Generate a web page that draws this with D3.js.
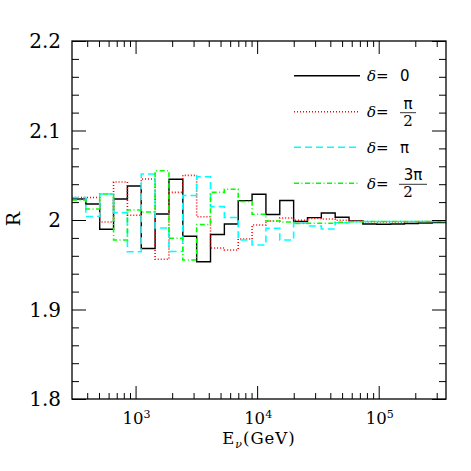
<!DOCTYPE html>
<html>
<head>
<meta charset="utf-8">
<script src="https://cdn.jsdelivr.net/npm/d3@7"></script>
<style>
  body { margin: 0; background: #fff; }
  svg { display: block; font-family: "DejaVu Serif", serif; }
</style>
</head>
<body>
<svg id="chart" width="471" height="471"></svg>
<script>
// Bin edges in GeV (each bin is 1.3 times the previous one)
const binEdges = [300, 390, 507, 659.1, 856.8, 1113.9, 1448, 1882.5, 2447.2, 3181.4,
  4135.8, 5376.5, 6989.4, 9086.3, 11812, 15356, 19963, 25951, 33737, 43858,
  57015, 74120, 96355, 125262, 162841, 211693, 275201, 357761];

// R per bin
const rDelta0 = [2.0235, 2.0179, 1.9896, 2.0235, 2.0380, 1.9682, 2.0067, 2.0455, 1.9818, 1.9534,
  1.9838, 1.9955, 2.0216, 2.0287, 2.0061, 2.0218, 1.9983, 2.0026, 2.0078, 2.0030,
  1.9989, 1.9955, 1.9952, 1.9955, 1.9961, 1.9966, 1.9972];
const rDeltaHalfPi = [2.0251, 2.0251, 1.9978, 2.0425, 2.0053, 2.0458, 1.9561, 2.0309, 2.0499, 2.0037,
  1.9687, 1.9665, 1.9788, 1.9944, 1.9989, 2.0022, 1.9998, 2.0017, 2.0011, 1.9998,
  1.9989, 1.9981, 1.9978, 1.9978, 1.9980, 1.9982, 1.9983];
const rDeltaPi = [2.0251, 2.0039, 2.0291, 2.0082, 1.9646, 2.0514, 1.9911, 1.9648, 2.0274, 2.0484,
  2.0149, 2.0028, 1.9777, 1.9721, 1.9907, 1.9777, 1.9963, 1.9933, 1.9899, 1.9970,
  1.9981, 1.9983, 1.9983, 1.9983, 1.9983, 1.9983, 1.9983];
const rDelta3HalfPi = [2.0223, 2.0123, 2.0291, 1.9777, 2.0112, 2.0089, 2.0551, 1.9796, 1.9553, 1.9950,
  2.0309, 2.0343, 2.0207, 2.0064, 1.9989, 1.9978, 1.9961, 1.9963, 1.9963, 1.9974,
  1.9981, 1.9983, 1.9983, 1.9983, 1.9983, 1.9983, 1.9983];

const yMajorTicks = [1.8, 1.9, 2.0, 2.1, 2.2];
const yTickLabels = ["1.8", "1.9", "2", "2.1", "2.2"];
const xMajorTicks = [1e3, 1e4, 1e5];
const xTickExponents = ["3", "4", "5"];

const series = [
  { values: rDelta0,       color: "#000000", dash: null,          num: "0",  den: null },
  { values: rDeltaHalfPi,  color: "#ff0000", dash: "1,2",         num: "π",  den: "2" },
  { values: rDeltaPi,      color: "#00ffff", dash: "7,4",         num: "π",  den: null },
  { values: rDelta3HalfPi, color: "#00ff00", dash: "5,2.5,1,2.5", num: "3π", den: "2" }
];

const W = 471, H = 471;
const margin = { top: 41, right: 25, bottom: 72, left: 72 };
const iw = W - margin.left - margin.right;
const ih = H - margin.top - margin.bottom;

const svg = d3.select("#chart");
const g = svg.append("g").attr("transform", `translate(${margin.left},${margin.top})`);

const x = d3.scaleLog().domain([binEdges[0], binEdges[binEdges.length - 1]]).range([0, iw]);
const y = d3.scaleLinear().domain([1.8, 2.2]).range([ih, 0]);

// clip for the histograms
svg.append("defs").append("clipPath").attr("id", "plotClip")
  .append("rect").attr("width", iw).attr("height", ih);

// step lines
const line = d3.line()
  .x(d => x(d[0]))
  .y(d => y(d[1]))
  .curve(d3.curveStepAfter);

const lines = g.append("g").attr("clip-path", "url(#plotClip)");
series.forEach(s => {
  const pts = s.values.map((v, i) => [binEdges[i], v]);
  pts.push([binEdges[s.values.length], s.values[s.values.length - 1]]);
  lines.append("path")
    .datum(pts)
    .attr("fill", "none")
    .attr("stroke", s.color)
    .attr("stroke-width", s.dash ? 1.6 : 1.4)
    .attr("stroke-dasharray", s.dash)
    .attr("d", line);
});

// ticks on all four sides, pointing inward
const [x0, x1] = x.domain();
const xMinor = x.ticks().filter(t => t > x0 && t < x1 && !xMajorTicks.includes(t));
const yMinor = y.ticks(20).filter(t => !yMajorTicks.some(m => Math.abs(m - t) < 1e-9));

function addAxis(axis, transform) {
  const a = g.append("g").attr("transform", transform).call(axis);
  a.select(".domain").remove();
  a.selectAll("line").attr("stroke", "#000").attr("stroke-width", 1);
}
addAxis(d3.axisBottom(x).tickValues(xMinor).tickSize(-6).tickFormat(""), `translate(0,${ih})`);
addAxis(d3.axisBottom(x).tickValues(xMajorTicks).tickSize(-13).tickFormat(""), `translate(0,${ih})`);
addAxis(d3.axisTop(x).tickValues(xMinor).tickSize(-6).tickFormat(""), "translate(0,0)");
addAxis(d3.axisTop(x).tickValues(xMajorTicks).tickSize(-13).tickFormat(""), "translate(0,0)");
addAxis(d3.axisLeft(y).tickValues(yMinor).tickSize(-7).tickFormat(""), "translate(0,0)");
addAxis(d3.axisLeft(y).tickValues(yMajorTicks).tickSize(-14).tickFormat(""), "translate(0,0)");
addAxis(d3.axisRight(y).tickValues(yMinor).tickSize(-7).tickFormat(""), `translate(${iw},0)`);
addAxis(d3.axisRight(y).tickValues(yMajorTicks).tickSize(-14).tickFormat(""), `translate(${iw},0)`);

// frame
g.append("rect")
  .attr("width", iw).attr("height", ih)
  .attr("fill", "none").attr("stroke", "#000").attr("stroke-width", 1.3);

// y tick labels
g.append("g").selectAll("text")
  .data(yMajorTicks)
  .enter().append("text")
  .attr("x", -11)
  .attr("y", d => y(d))
  .attr("dy", "0.36em")
  .attr("text-anchor", "end")
  .attr("font-size", 20)
  .text((d, i) => yTickLabels[i]);

// x tick labels: 10^n
const xl = g.append("g").selectAll("text")
  .data(xMajorTicks)
  .enter().append("text")
  .attr("x", d => x(d) + 1)
  .attr("y", ih + 25)
  .attr("text-anchor", "middle")
  .attr("font-size", 16.5);
xl.append("tspan").text("10");
xl.append("tspan").attr("dy", -6).attr("font-size", 11).text((d, i) => xTickExponents[i]);

// axis titles
const xt = svg.append("text")
  .attr("x", 259).attr("y", 444)
  .attr("text-anchor", "middle")
  .attr("font-size", 16.5)
  .attr("letter-spacing", 1);
xt.append("tspan").text("E");
xt.append("tspan").attr("dy", 4).attr("font-size", 11).attr("font-style", "italic").text("ν");
xt.append("tspan").attr("dy", -4).text("(GeV)");

svg.append("text")
  .attr("transform", "translate(20,219) rotate(-90)")
  .attr("text-anchor", "middle")
  .attr("font-size", 19)
  .text("R");

// legend
const legendY = [75.7, 111.7, 147.3, 183.3];
const leg = svg.append("g").attr("font-size", 15);
series.forEach((s, i) => {
  const ly = legendY[i];
  leg.append("line")
    .attr("x1", 294).attr("x2", 360)
    .attr("y1", ly).attr("y2", ly)
    .attr("stroke", s.color)
    .attr("stroke-width", s.dash ? 1.6 : 1.4)
    .attr("stroke-dasharray", s.dash);
  const base = ly + 5.5;
  const t = leg.append("text").attr("x", 367).attr("y", base);
  t.append("tspan").attr("font-style", "italic").text("δ");
  t.append("tspan").text("=");
  if (s.den) {
    const cx = i === 3 ? 413 : 408;
    leg.append("text").attr("x", cx).attr("y", ly - 3)
      .attr("text-anchor", "middle").attr("font-family", "DejaVu Sans").text(s.num);
    leg.append("line")
      .attr("x1", cx - (i === 3 ? 14 : 8)).attr("x2", cx + (i === 3 ? 14 : 8))
      .attr("y1", ly + 1).attr("y2", ly + 1)
      .attr("stroke", "#000").attr("stroke-width", 0.8);
    leg.append("text").attr("x", cx - (i === 3 ? 5 : 0)).attr("y", ly + 14)
      .attr("text-anchor", "middle").text(s.den);
  } else {
    leg.append("text").attr("x", 400).attr("y", base)
      .attr("font-family", "DejaVu Sans").text(s.num);
  }
});
</script>
</body>
</html>
